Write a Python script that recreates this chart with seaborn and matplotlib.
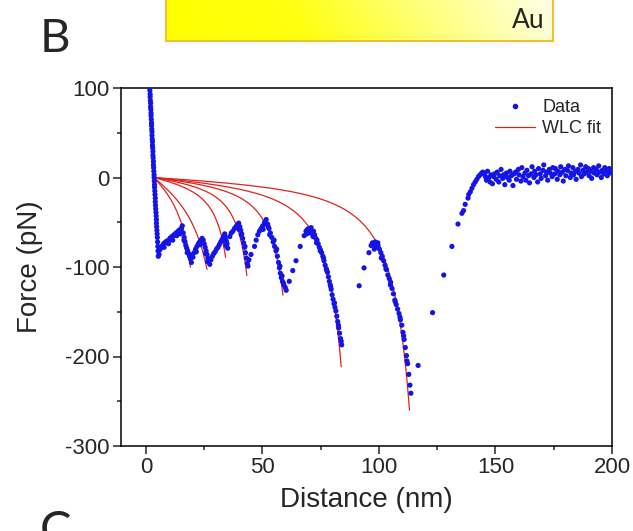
import numpy as np
import pandas as pd
import matplotlib
matplotlib.use("Agg")
import matplotlib.pyplot as plt
from matplotlib.colors import LinearSegmentedColormap
from matplotlib.lines import Line2D
import seaborn as sns

# --- data (distance nm, force pN) ---
approach_x = [1.6, 1.7, 1.8, 1.8, 1.9, 2.0, 2.0, 2.1, 2.2, 2.2, 2.3, 2.4, 2.4, 2.5, 2.6, 2.6, 2.7,
              2.8, 2.8, 2.9, 3.0, 3.0, 3.1, 3.2, 3.2, 3.3, 3.4, 3.5, 3.5, 3.6, 3.7, 3.7, 3.8, 3.9,
              4.0, 4.0, 4.1, 4.2, 4.3, 4.4, 4.5, 4.5, 4.6, 4.7, 4.8, 4.9, 5.0, 5.1, 5.2, 5.3]
approach_y = [100, 97, 93, 90, 86, 83, 79, 76, 72, 69, 65, 61, 58, 54, 51, 47, 43,
              40, 36, 33, 29, 25, 22, 18, 14, 11, 7, 3, 0, -4, -8, -11, -15, -19,
              -23, -27, -31, -35, -39, -43, -47, -51, -55, -59, -63, -67, -72, -77, -82, -88]

saw1_x = [5.6, 5.9, 6.3, 6.8, 7.2, 7.6, 8.1, 8.5, 9.0, 9.4, 9.9, 10.3, 10.8, 11.2, 11.7, 12.1,
          12.6, 13.0, 13.5, 13.9, 14.3, 14.8, 15.2, 15.6, 16.0, 16.4, 16.8, 17.1, 17.5, 17.9,
          18.3, 18.7, 19.1, 19.5, 7.8, 9.7, 11.5, 13.2, 14.6, 16.3, 17.7, 18.9]
saw1_y = [-86, -81, -79, -77, -76, -74, -73, -72, -71, -71, -70, -68, -67, -66, -65, -64,
          -63, -62, -61, -60, -59, -58, -57, -54, -62, -67, -72, -76, -79, -82,
          -85, -88, -91, -95, -78, -74, -70, -65, -63, -70, -84, -86]

saw2_x = [20.2, 20.7, 21.3, 21.9, 22.5, 23.0, 23.6, 24.1, 24.6, 25.0, 25.4, 25.8, 26.2, 26.6,
          27.0, 27.4, 21.6, 23.3, 25.6, 26.4]
saw2_y = [-89, -84, -80, -77, -74, -72, -70, -68, -70, -74, -78, -82, -86, -90,
          -93, -97, -83, -75, -85, -94]

saw3_x = [27.9, 28.5, 29.1, 29.7, 30.3, 30.9, 31.5, 32.1, 32.7, 33.3, 33.8, 34.1, 34.5, 34.8,
          35.1, 33.5, 34.3]
saw3_y = [-92, -88, -85, -83, -80, -78, -75, -72, -69, -66, -63, -67, -71, -74,
          -79, -71, -76]

saw4_x = [36.0, 36.6, 37.3, 38.0, 38.6, 39.2, 39.8, 40.3, 40.7, 41.1, 41.5, 41.9, 42.3, 42.7,
          43.1, 43.5, 44.2, 45.1, 40.9, 42.5, 39.9, 43.8]
saw4_y = [-66, -62, -60, -57, -55, -53, -51, -55, -59, -63, -68, -73, -78, -84,
          -90, -96, -92, -86, -64, -77, -58, -99]

saw5_x = [46.6, 47.3, 48.0, 48.7, 49.4, 50.1, 50.9, 51.6, 52.2, 52.8, 53.4, 54.0, 54.6, 55.2,
          55.8, 56.4, 56.9, 57.3, 57.7, 58.1, 58.6, 59.2, 59.8, 60.2, 61.5, 63.0, 64.4,
          52.5, 53.1, 55.0, 56.1, 57.5, 58.4, 51.0, 50.3, 59.0]
saw5_y = [-77, -70, -64, -60, -57, -54, -50, -47, -52, -57, -62, -67, -72, -77,
          -82, -88, -95, -101, -107, -112, -116, -120, -123, -126, -116, -104, -93,
          -55, -64, -70, -80, -99, -110, -52, -58, -118]

saw6_x = [66.2, 67.9, 68.7, 69.3, 69.9, 70.4, 70.9, 71.4, 71.9, 72.4, 72.9, 73.4, 73.9, 74.4,
          74.9, 75.4, 75.9, 76.4, 76.9, 77.4, 77.9, 78.3, 78.7, 79.1, 79.5, 79.9, 80.3, 80.7,
          81.1, 81.5, 81.9, 82.3, 82.7, 83.1, 83.5, 84.0, 69.0, 70.6, 71.7, 73.2, 74.8, 76.2,
          77.6, 79.3, 80.9, 82.6, 83.8]
saw6_y = [-77, -65, -60, -58, -57, -59, -56, -61, -60, -64, -68, -70, -74, -78,
          -81, -84, -88, -93, -98, -102, -106, -111, -116, -120, -125, -131, -136, -141,
          -145, -149, -155, -161, -168, -174, -180, -187, -63, -62, -66, -73, -82, -90,
          -104, -122, -140, -165, -183]

saw7_x = [91.5, 93.6, 95.7, 96.6, 97.2, 97.8, 98.4, 99.0, 99.6, 100.2, 100.8, 101.4, 102.0,
          102.6, 103.2, 103.8, 104.4, 105.0, 105.6, 106.2, 106.8, 107.4, 108.0, 108.6, 109.2,
          109.8, 110.3, 110.8, 111.3, 111.8, 112.3, 112.8, 113.3, 113.7, 98.0, 99.5, 101.0,
          103.0, 104.9, 107.0, 109.0, 110.6, 112.0, 116.8]
saw7_y = [-121, -101, -84, -76, -73, -75, -72, -78, -76, -80, -84, -88, -93,
          -98, -103, -109, -113, -117, -124, -130, -137, -142, -147, -152, -159,
          -165, -173, -181, -190, -199, -208, -220, -232, -241, -80, -73, -90,
          -102, -120, -139, -156, -177, -205, -210]

rise_x = [123.0, 127.8, 131.3, 133.9, 135.6, 136.3, 137.0, 138.2, 138.5, 139.2, 139.9, 140.6,
          141.3, 142.0, 142.7, 143.4, 144.1, 144.6]
rise_y = [-151, -109, -77, -52, -40, -37, -30, -23, -19, -16, -12, -8,
          -5, -2, 1, 3, 5, 6]

plateau_x = [145.2, 145.7, 146.1, 146.6, 147.2, 147.6, 148.1, 148.7, 149.2, 149.6, 150.3, 150.7,
             151.4, 151.8, 152.4, 153.1, 153.5, 154.0, 154.7, 155.1, 155.9, 156.2, 156.8, 157.5,
             157.9, 158.6, 159.0, 159.8, 160.1, 160.9, 161.3, 161.8, 162.6, 163.0, 163.5, 164.2,
             164.6, 165.3, 165.7, 166.5, 166.8, 167.4, 168.1, 168.5, 169.2, 169.6, 170.4, 170.7,
             171.5, 171.9, 172.4, 173.1, 173.5, 174.3, 174.6, 175.4, 175.7, 176.5, 176.8, 177.6,
             178.0, 178.7, 179.1, 179.8, 180.2, 180.9, 181.3, 182.1, 182.4, 183.2, 183.5, 184.3,
             184.6, 185.4, 185.8, 186.5, 186.9, 187.6, 188.0, 188.7, 189.1, 189.9, 190.2, 191.0,
             191.3, 192.1, 192.4, 193.2, 193.6, 194.3, 194.7, 195.4, 195.8, 196.5, 196.9, 197.7,
             198.0, 198.8, 199.1, 199.8]
plateau_y = [4, 1, -3, 7, 0, -5, 3, -7, 1, 4, -2, 6, -5, 2, 9, -1, 3, -8, 5, 0,
             -3, 7, 2, -9, 4, 6, -2, 9, 3, -4, 11, 1, 5, -3, 8, 2, -6, 4, 12, 0,
             7, 3, -5, 10, 4, -1, 8, 14, 2, 6, -3, 9, 5, 1, 11, 4, 10, -2, 7, 3,
             12, 6, -4, 9, 2, 8, 13, 0, 5, 11, 3, 7, -2, 9, 5, 14, 1, 8, 4, 12,
             6, 10, 2, 7, -1, 11, 5, 9, 3, 13, 6, 0, 8, 4, 11, 7, 2, 10, 5, 9]

# WLC fits: contour length (nm), force scale kT/p (pN), end of drawn fit (nm)
fit_start = 3.3
fit_contour = [25.0, 38.0, 40.5, 49.5, 67.0, 93.7, 124.5]
fit_scale = [45.0, 53.0, 18.0, 14.9, 14.5, 16.0, 14.0]
fit_end = [19.1, 26.2, 34.2, 43.3, 58.8, 83.8, 113.1]

blue = "#1414e6"
red = "#e0241c"

sns.set_style("ticks")
plt.rcParams["font.family"] = ["Liberation Sans", "DejaVu Sans"]
plt.rcParams["axes.unicode_minus"] = False

data = pd.DataFrame({
    "dist": approach_x + saw1_x + saw2_x + saw3_x + saw4_x + saw5_x + saw6_x + saw7_x + rise_x + plateau_x,
    "force": approach_y + saw1_y + saw2_y + saw3_y + saw4_y + saw5_y + saw6_y + saw7_y + rise_y + plateau_y,
})

rows = []
for i, (L, A, xe) in enumerate(zip(fit_contour, fit_scale, fit_end)):
    d = np.linspace(fit_start, xe, 300)
    r = (d - fit_start) / L
    f = -A * (0.25 / (1 - r) ** 2 - 0.25 + r)
    rows.append(pd.DataFrame({"dist": d, "force": f, "fit": i}))
fits = pd.concat(rows, ignore_index=True)

fig = plt.figure(figsize=(6.33, 5.31), dpi=100)
ax = fig.add_axes([121 / 633, 1 - 446 / 531, (612 - 121) / 633, (446 - 88) / 531])

sns.lineplot(data=fits, x="dist", y="force", hue="fit", palette=[red] * 7,
             estimator=None, sort=False, legend=False, linewidth=0.9, ax=ax)
sns.scatterplot(data=data, x="dist", y="force", color=blue, s=14, linewidth=0,
                edgecolor="none", ax=ax, zorder=3)

ax.set_xlim(-10.7, 200)
ax.set_ylim(-300, 100)
ax.set_xticks([0, 50, 100, 150, 200])
ax.set_xticks([25, 75, 125, 175], minor=True)
ax.set_yticks([-300, -200, -100, 0, 100])
ax.set_yticks([-250, -150, -50, 50], minor=True)
ax.tick_params(which="major", direction="out", length=6, width=1.1, labelsize=16, pad=2)
ax.tick_params(which="minor", direction="out", length=3, width=1.1)
for s in ax.spines.values():
    s.set_linewidth(1.1)
    s.set_color("black")
ax.set_xlabel("Distance (nm)", fontsize=20, va="center")
ax.set_ylabel("Force (pN)", fontsize=20, va="center")
ax.xaxis.set_label_coords(0.5, (446 - 500) / 358)
ax.yaxis.set_label_coords((30 - 121) / 491, 0.5)

handles = [Line2D([], [], marker="o", linestyle="none", color=blue, markersize=3),
           Line2D([], [], color=red, linewidth=0.9)]
ax.legend(handles, ["Data", "WLC fit"], loc="upper right", frameon=False, fontsize=13,
          handlelength=2.2, handletextpad=0.4, labelspacing=0.25, borderaxespad=0.2,
          bbox_to_anchor=(1.0, 1.0))

# gold substrate bar
bar = fig.add_axes([166 / 633, 1 - 41 / 531, (553 - 166) / 633, 0.12])
gx = np.linspace(0, 1, 300)
gy = np.linspace(0, 1, 20)
grad = gx[None, :] * 0.92 + gy[:, None] * 0.08
cmap = LinearSegmentedColormap.from_list("au", ["#ffff00", "#ffff10", "#ffff80", "#fffff0"])
bar.imshow(grad, aspect="auto", cmap=cmap, extent=(0, 1, 0, 1), origin="lower")
bar.set_xticks([])
bar.set_yticks([])
for s in bar.spines.values():
    s.set_color("#f0c030")
    s.set_linewidth(1.5)
fig.text(545 / 633, 1 - 21 / 531, "Au", fontsize=19, ha="right", va="center",
         family=["Lato", "DejaVu Sans"])

fig.text(40 / 633, 1 - 52 / 531, "B", fontsize=34, ha="left", va="baseline",
         family=["Lato", "DejaVu Sans"])
fig.text(40 / 633, 1 - 510 / 531, "C", fontsize=34, ha="left", va="top",
         family=["Lato", "DejaVu Sans"])

fig.savefig("out.png", dpi=100)
